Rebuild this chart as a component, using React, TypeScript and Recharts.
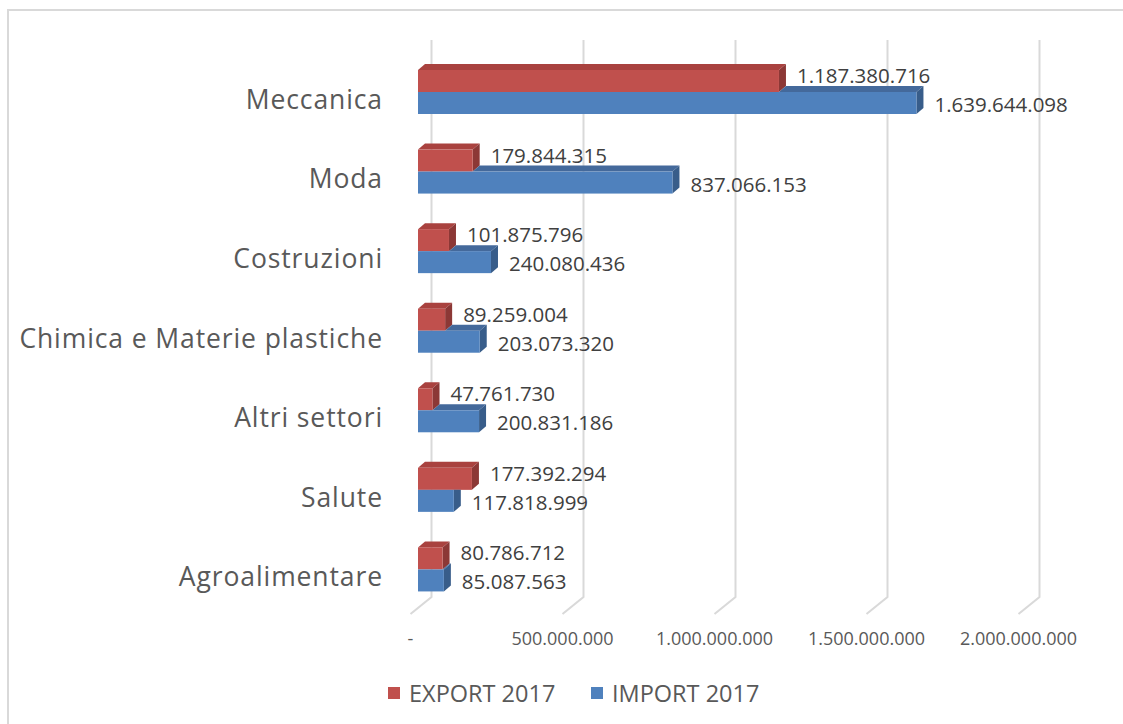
import { BarChart, Bar, XAxis, YAxis, CartesianGrid, LabelList } from 'recharts';

const categories = ['Meccanica', 'Moda', 'Costruzioni', 'Chimica e Materie plastiche', 'Altri settori', 'Salute', 'Agroalimentare'];
const export2017 = [1187380716, 179844315, 101875796, 89259004, 47761730, 177392294, 80786712];
const import2017 = [1639644098, 837066153, 240080436, 203073320, 200831186, 117818999, 85087563];
const xTicks = [0, 500000000, 1000000000, 1500000000, 2000000000];

const data = categories.map((name, i) => ({ name, export: export2017[i], import: import2017[i] }));

const fmt = (v: number) => (v === 0 ? '-' : String(v).replace(/\B(?=(\d{3})+(?!\d))/g, '.'));

const DX = 7;
const DY = 6;
const FONT = '"Open Sans", sans-serif';

const colors = {
    export: { front: '#C0504D', top: '#A9423F', side: '#8C3836' },
    import: { front: '#4F81BD', top: '#44699B', side: '#385D8A' },
};

const Box3D = (props: any) => {
    const { x, y, width, height, payload, series } = props;
    const c = series === 'export' ? colors.export : colors.import;
    let topFace = null;
    let sideTop = y - DY;
    if (series === 'export') {
        topFace = <polygon points={`${x},${y} ${x + DX},${y - DY} ${x + width + DX},${y - DY} ${x + width},${y}`} fill={c.top} />;
    } else {
        const we = (width * payload.export) / payload.import;
        if (we < width) {
            topFace = <polygon points={`${x + we},${y} ${x + we + DX},${y - DY} ${x + width + DX},${y - DY} ${x + width},${y}`} fill={c.top} />;
        } else {
            sideTop = y;
        }
    }
    const side = sideTop === y
        ? `${x + width},${y} ${x + width + DX},${y} ${x + width + DX},${y + height - DY} ${x + width},${y + height}`
        : `${x + width},${y} ${x + width + DX},${y - DY} ${x + width + DX},${y + height - DY} ${x + width},${y + height}`;
    return (
        <g>
            {topFace}
            <polygon points={side} fill={c.side} />
            <rect x={x} y={y} width={width} height={height} fill={c.front} />
        </g>
    );
};

const makeLabel = (dy: number) => (p: any) => {
    const { x, y, width, height, value } = p;
    return (
        <text x={x + width + 18} y={y + height / 2 + dy} fill="#404040" fontSize={20.5} fontFamily={FONT}>
            {fmt(Number(value))}
        </text>
    );
};

const CategoryTick = (p: any) => (
    <text x={383} y={p.y + 17} textAnchor="end" fill="#595959" fontSize={26.5} letterSpacing={0.9} fontFamily={FONT}>
        {p.payload.value}
    </text>
);

const ValueTick = (p: any) => (
    <text x={p.x - 7.5} y={645} textAnchor="middle" fill="#595959" fontSize={18} fontFamily={FONT}>
        {fmt(p.payload.value)}
    </text>
);

const gridLine = (p: any) => {
    const { x1, y1, y2, index } = p;
    return (
        <polyline
            key={`grid-${index}`}
            points={`${x1 + 13.5},${y1 - 12} ${x1 + 13.5},${y2 - 12} ${x1 - 7.5},${y2 + 5}`}
            fill="none"
            stroke="#D9D9D9"
            strokeWidth={2}
        />
    );
};

const LegendItem = ({ color, text, left }: { color: string; text: string; left: number }) => (
    <div style={{ position: 'absolute', left, top: 680, display: 'flex', alignItems: 'center', height: 26 }}>
        <div style={{ width: 12, height: 12, background: color, marginRight: 9 }} />
        <span style={{ fontFamily: FONT, fontSize: 23.5, color: '#595959', lineHeight: '26px' }}>{text}</span>
    </div>
);

export default function App() {
    return (
        <div style={{ position: 'absolute', left: 0, top: 0, width: 1123, height: 724, background: '#fff', overflow: 'hidden' }}>
            <div style={{ position: 'absolute', left: 7, top: 9, width: 1130, height: 730, borderTop: '2px solid #D9D9D9', borderLeft: '2px solid #D9D9D9' }} />
            <BarChart
                layout="vertical"
                width={1123}
                height={724}
                data={data}
                margin={{ top: 52, right: 97, bottom: 75, left: 0 }}
                barSize={22}
                barGap={0}
                style={{ position: 'absolute', left: 0, top: 0 }}
            >
                <CartesianGrid horizontal={false} vertical={gridLine} />
                <XAxis
                    type="number"
                    domain={[0, 2000000000]}
                    ticks={xTicks}
                    height={40}
                    axisLine={false}
                    tickLine={false}
                    tick={<ValueTick />}
                    interval={0}
                />
                <YAxis type="category" dataKey="name" width={418} axisLine={false} tickLine={false} tick={<CategoryTick />} interval={0} />
                <Bar dataKey="export" name="EXPORT 2017" fill="#C0504D" isAnimationActive={false} shape={(p: any) => <Box3D {...p} series="export" />}>
                    <LabelList dataKey="export" content={makeLabel(2)} />
                </Bar>
                <Bar dataKey="import" name="IMPORT 2017" fill="#4F81BD" isAnimationActive={false} shape={(p: any) => <Box3D {...p} series="import" />}>
                    <LabelList dataKey="import" content={makeLabel(9)} />
                </Bar>
            </BarChart>
            <LegendItem color="#C0504D" text="EXPORT 2017" left={388} />
            <LegendItem color="#4F81BD" text="IMPORT 2017" left={591} />
        </div>
    );
}
